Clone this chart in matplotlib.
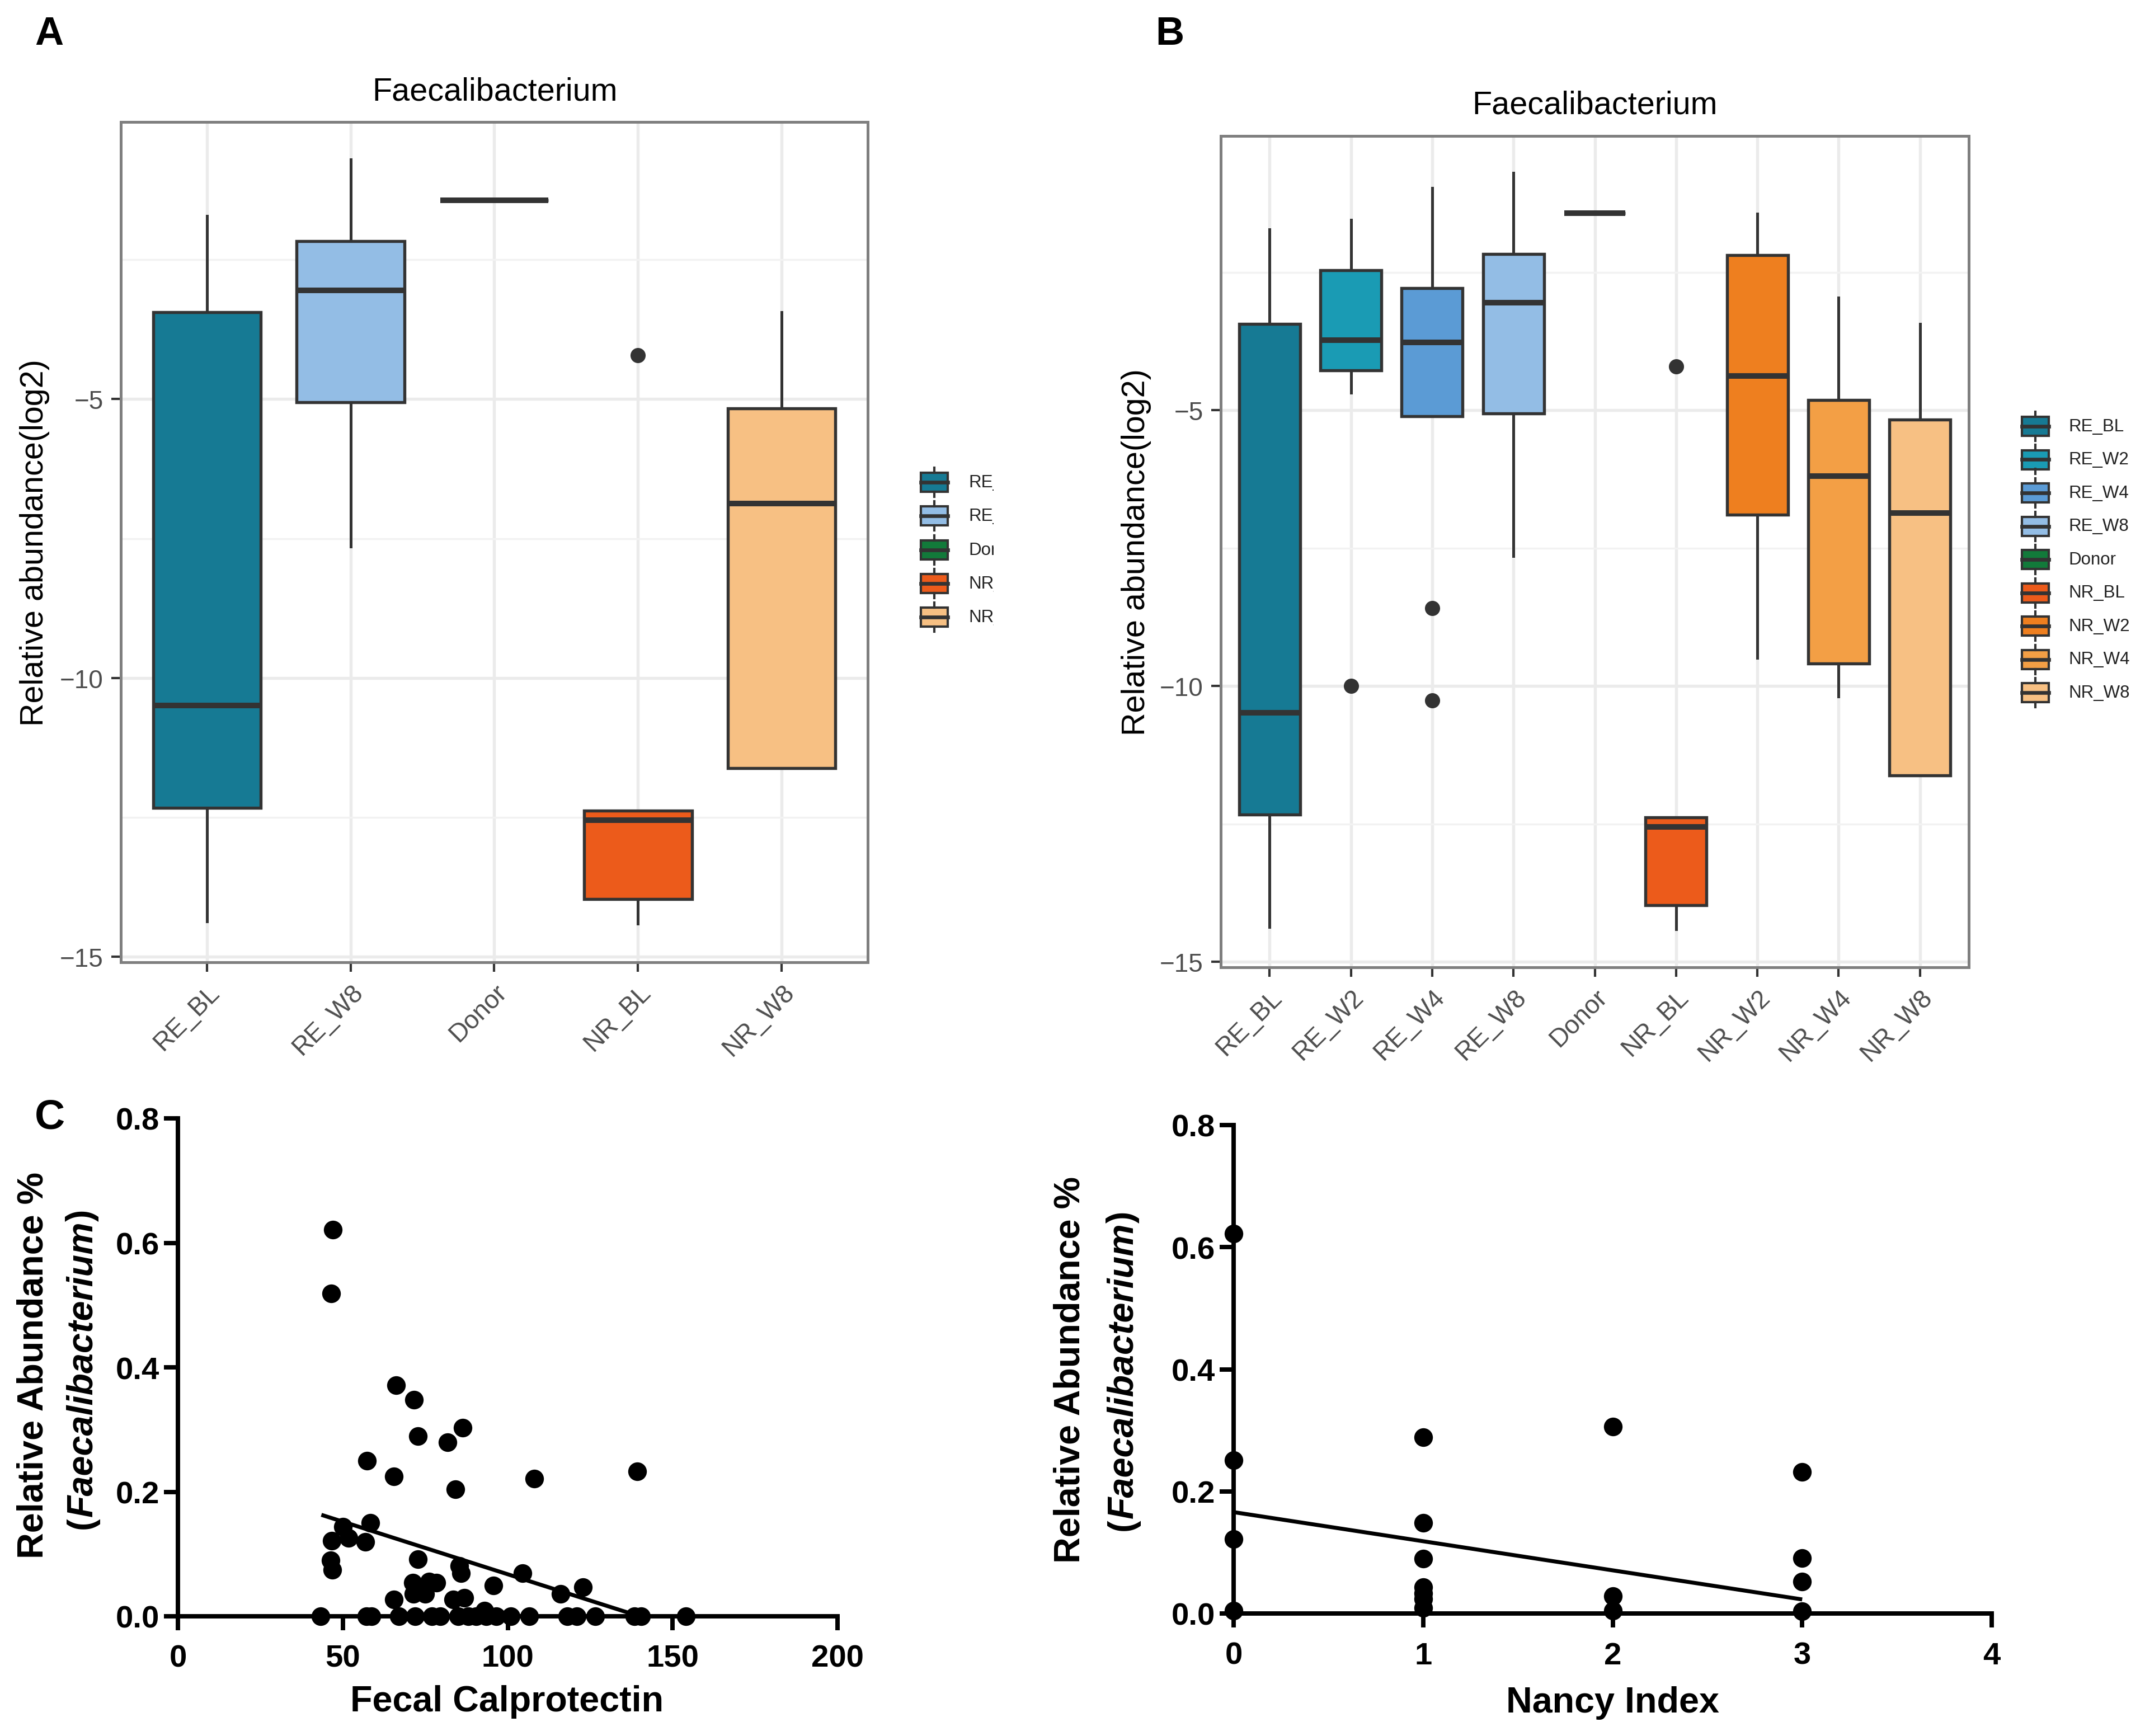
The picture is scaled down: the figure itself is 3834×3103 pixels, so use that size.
import matplotlib

matplotlib.use("Agg")

import matplotlib.pyplot as plt
import numpy as np
from matplotlib.patches import Rectangle
from matplotlib.transforms import IdentityTransform

W, H = 3834, 3104
DPI = 300

plt.rcParams["font.family"] = ["Liberation Sans", "DejaVu Sans"]

# ---- box plot data (log2 relative abundance) ----
GROUPS = ["RE_BL", "RE_W2", "RE_W4", "RE_W8", "Donor", "NR_BL", "NR_W2", "NR_W4", "NR_W8"]
GROUP_COLORS = ["#167A94", "#1A9BB4", "#5B9BD5", "#93BDE5", "#127A3A",
                "#EC5B1B", "#EE7F1F", "#F39F45", "#F7C083"]
WHISKER_HIGH = [-1.72, -1.55, -0.97, -0.70, -1.43, -12.38, -1.44, -2.96, -3.44]
Q3 = [-3.44, -2.46, -2.79, -2.17, -1.43, -12.38, -2.19, -4.82, -5.17]
MEDIAN = [-10.49, -3.73, -3.77, -3.05, -1.43, -12.55, -4.38, -6.20, -6.87]
Q1 = [-12.33, -4.28, -5.11, -5.06, -1.43, -13.97, -6.90, -9.59, -11.62]
WHISKER_LOW = [-14.37, -4.68, -5.11, -7.65, -1.43, -14.41, -9.49, -10.19, -11.62]
OUTLIERS = [[], [-10.0], [-8.59, -10.26], [], [], [-4.21], [], [], []]

GROUPS_A = ["RE_BL", "RE_W8", "Donor", "NR_BL", "NR_W8"]

# ---- scatter data ----
CALPRO_X = [47.0, 46.4, 66.1, 71.6, 86.3, 72.7, 81.7, 57.4, 65.4, 108.0, 139.3, 84.1,
            58.3, 50.0, 51.7, 46.6, 56.8, 46.3, 46.9, 72.7, 85.4, 85.9, 104.5, 71.2,
            76.1, 78.3, 71.5, 74.9, 95.6, 122.9, 116.1, 65.4, 83.4, 86.8, 93.0,
            43.2, 57.2, 58.7, 67.0, 72.0, 77.0, 79.5, 85.0, 88.0, 90.5, 93.5, 96.5,
            101.0, 106.5, 118.0, 121.0, 126.5, 138.5, 140.5, 154.0]
CALPRO_Y = [0.621, 0.519, 0.371, 0.348, 0.303, 0.289, 0.280, 0.250, 0.225, 0.221, 0.233, 0.204,
            0.150, 0.144, 0.126, 0.121, 0.120, 0.090, 0.075, 0.092, 0.081, 0.069, 0.069, 0.054,
            0.056, 0.054, 0.036, 0.036, 0.049, 0.047, 0.036, 0.027, 0.027, 0.030, 0.009,
            0.0, 0.0, 0.0, 0.0, 0.0, 0.0, 0.0, 0.0, 0.0, 0.0, 0.0, 0.0,
            0.0, 0.0, 0.0, 0.0, 0.0, 0.0, 0.0, 0.0]
CALPRO_FIT_X = [43.5, 137.0]
CALPRO_FIT_Y = [0.163, 0.005]
CALPRO_TICKS = [0, 50, 100, 150, 200]

NANCY_X = [0, 0, 0, 0, 1, 1, 1, 1, 1, 1, 1, 2, 2, 2, 3, 3, 3, 3]
NANCY_Y = [0.622, 0.251, 0.122, 0.005, 0.289, 0.148, 0.090, 0.043, 0.033, 0.024, 0.009,
           0.306, 0.028, 0.005, 0.232, 0.091, 0.052, 0.004]
NANCY_FIT_X = [0, 3]
NANCY_FIT_Y = [0.166, 0.023]
NANCY_TICKS = [0, 1, 2, 3, 4]

ABUND_TICKS = [0.0, 0.2, 0.4, 0.6, 0.8]

EDGE = "#333333"


def _axes(fig, left, top, right, bottom):
    # pixel box (top-left origin) -> figure fraction
    return fig.add_axes([left / W, 1 - bottom / H, (right - left) / W, (bottom - top) / H])


def _fx(px):
    return px / W


def _fy(py):
    return 1 - py / H


def _box_panel(ax, groups):
    idx = [GROUPS.index(g) for g in groups]
    stats = [
        dict(label=GROUPS[i], med=MEDIAN[i], q1=Q1[i], q3=Q3[i],
             whislo=WHISKER_LOW[i], whishi=WHISKER_HIGH[i], fliers=OUTLIERS[i])
        for i in idx
    ]
    positions = np.arange(1, len(groups) + 1)
    bp = ax.bxp(
        stats, positions=positions, widths=0.75, patch_artist=True, showcaps=False,
        boxprops=dict(edgecolor=EDGE, linewidth=1.3),
        medianprops=dict(color=EDGE, linewidth=2.4, solid_capstyle="butt"),
        whiskerprops=dict(color=EDGE, linewidth=1.2),
        flierprops=dict(marker="o", markerfacecolor=EDGE, markeredgecolor=EDGE, markersize=5.5),
        zorder=2,
    )
    for patch, i in zip(bp["boxes"], idx):
        patch.set_facecolor(GROUP_COLORS[i])

    ax.set_xlim(0.4, len(groups) + 0.6)
    ax.set_ylim(-15.1, -0.03)
    ax.set_yticks([-15, -10, -5])
    ax.set_yticks([-12.5, -7.5, -2.5], minor=True)
    ax.set_xticks(positions)
    ax.set_xticklabels(groups, rotation=45, ha="right", rotation_mode="anchor")
    ax.grid(which="major", color="#EBEBEB", linewidth=1.3)
    ax.grid(which="minor", axis="y", color="#F2F2F2", linewidth=0.8)
    ax.set_axisbelow(True)
    ax.tick_params(which="major", length=4, width=1.0, color=EDGE, labelsize=11,
                   labelcolor="#4D4D4D", pad=3.5)
    ax.tick_params(which="minor", length=0)
    for spine in ax.spines.values():
        spine.set_color("#7F7F7F")
        spine.set_linewidth(1.2)


def _legend(fig, groups, key_x, text_x, y0, dy, right):
    n = len(groups)
    top, bottom = y0 - 40, y0 + dy * (n - 1) + 40
    left = key_x - 40
    ax = _axes(fig, left, top, right, bottom)
    ax.set_xlim(left, right)
    ax.set_ylim(bottom, top)
    ax.axis("off")
    for k, g in enumerate(groups):
        y = y0 + k * dy
        color = GROUP_COLORS[GROUPS.index(g)]
        ax.add_patch(Rectangle((key_x - 24, y - 17), 48, 34, facecolor=color,
                               edgecolor=EDGE, linewidth=1.0))
        ax.plot([key_x - 24, key_x + 24], [y, y], color=EDGE, linewidth=1.6)
        ax.plot([key_x, key_x], [y - 26, y - 17], color=EDGE, linewidth=1.0)
        ax.plot([key_x, key_x], [y + 17, y + 26], color=EDGE, linewidth=1.0)
        ax.text(text_x, y, g, fontsize=7.5, color="#222222", ha="left", va="center",
                clip_on=True)


def _scatter_panel(ax, x, y, fit_x, fit_y, xticks):
    ax.scatter(x, y, s=64, color="black", linewidths=0, clip_on=False, zorder=3)
    ax.plot(fit_x, fit_y, color="black", linewidth=1.7, solid_capstyle="butt", zorder=2)
    ax.set_xlim(xticks[0], xticks[-1])
    ax.set_ylim(0, 0.8)
    ax.spines["top"].set_visible(False)
    ax.spines["right"].set_visible(False)
    for side in ("left", "bottom"):
        ax.spines[side].set_linewidth(1.9)
        ax.spines[side].set_capstyle("projecting")
    ax.set_xticks(xticks)
    ax.set_xticklabels([str(t) for t in xticks])
    ax.set_yticks(ABUND_TICKS)
    ax.set_yticklabels([f"{t:.1f}" for t in ABUND_TICKS])
    ax.tick_params(axis="x", direction="out", length=6, width=1.9, labelsize=13.5, pad=6)
    ax.tick_params(axis="y", direction="out", length=6, width=1.9, labelsize=13.5, pad=2)
    for lab in ax.get_xticklabels() + ax.get_yticklabels():
        lab.set_fontweight("bold")


def _mixed_ylabel(fig, cx, cy, parts, size):
    # one rotated line made of pieces with different styles, centred on (cx, cy) in pixels
    renderer = fig.canvas.get_renderer()
    texts = []
    for s, style in parts:
        t = fig.text(0, 0, s, fontsize=size, fontweight="bold", fontstyle=style,
                     rotation=90, ha="center", va="bottom", transform=IdentityTransform())
        texts.append(t)
    lengths = [t.get_window_extent(renderer).height for t in texts]
    pos = (H - cy) - sum(lengths) / 2
    for t, length in zip(texts, lengths):
        t.set_position((cx, pos))
        pos += length


def main():
    fig = plt.figure(figsize=(W / DPI, H / DPI), dpi=DPI)

    # ---- A ----
    ax_a = _axes(fig, 216, 219, 1551, 1721)
    _box_panel(ax_a, GROUPS_A)
    fig.text(_fx(884), _fy(179), "Faecalibacterium", fontsize=13.8, ha="center", va="baseline")
    fig.text(_fx(62), _fy(970), "Relative abundance(log2)", fontsize=13.8, rotation=90,
             ha="center", va="center")
    fig.text(_fx(88), _fy(62), "A", fontsize=17, fontweight="bold", ha="center", va="center")
    _legend(fig, GROUPS_A, 1670, 1731, 863, 60.3, 1776)

    # ---- B ----
    ax_b = _axes(fig, 2182, 244, 3519, 1730)
    _box_panel(ax_b, GROUPS)
    fig.text(_fx(2851), _fy(204), "Faecalibacterium", fontsize=13.8, ha="center", va="baseline")
    fig.text(_fx(2031), _fy(987), "Relative abundance(log2)", fontsize=13.8, rotation=90,
             ha="center", va="center")
    fig.text(_fx(2091), _fy(62), "B", fontsize=17, fontweight="bold", ha="center", va="center")
    _legend(fig, GROUPS, 3638, 3697, 763, 59.5, 3834)

    # ---- C ----
    ax_c = _axes(fig, 318, 2000, 1497, 2890)
    _scatter_panel(ax_c, CALPRO_X, CALPRO_Y, CALPRO_FIT_X, CALPRO_FIT_Y, CALPRO_TICKS)
    fig.text(_fx(906), _fy(3042), "Fecal Calprotectin", fontsize=15.5, fontweight="bold",
             ha="center", va="center")
    fig.text(_fx(60), _fy(2440), "Relative Abundance %", fontsize=15.5, fontweight="bold",
             rotation=90, ha="center", va="center")
    _mixed_ylabel(fig, 147, 2447, [("(", "normal"), ("Faecalibacterium", "italic"), (")", "normal")], 15.5)
    fig.text(_fx(89), _fy(1998), "C", fontsize=18, fontweight="bold", ha="center", va="center")

    # ---- D ----
    ax_d = _axes(fig, 2205, 2012, 3560, 2885)
    _scatter_panel(ax_d, NANCY_X, NANCY_Y, NANCY_FIT_X, NANCY_FIT_Y, NANCY_TICKS)
    fig.text(_fx(2883), _fy(3044), "Nancy Index", fontsize=15.5, fontweight="bold",
             ha="center", va="center")
    fig.text(_fx(1913), _fy(2448), "Relative Abundance %", fontsize=15.5, fontweight="bold",
             rotation=90, ha="center", va="center")
    _mixed_ylabel(fig, 2007, 2450, [("(", "normal"), ("Faecalibacterium", "italic"), (")", "normal")], 15.5)

    fig.savefig("out.png", dpi=DPI)
    plt.close(fig)


if __name__ == "__main__":
    main()
